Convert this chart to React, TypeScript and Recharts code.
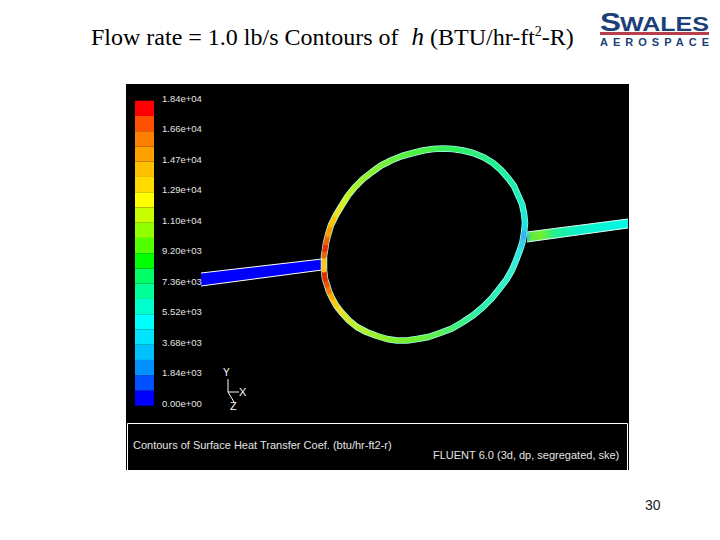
import React from "react";
import { ComposedChart, Line, Area, XAxis, YAxis, ReferenceArea } from "recharts";

// contour legend, bottom band first
const bandColors = [
  "#0000ff", "#0050ff", "#0090ff", "#00c0ff", "#00e4ff", "#00ffff", "#00ffcc", "#00ff99", "#00ff66", "#00ff00",
  "#50ff00", "#90ff00", "#c8ff00", "#ffff00", "#ffdc00", "#ffc000", "#ffa000", "#ff8000", "#ff5000", "#ff0000",
];
const legendTicks = [0, 1840, 3680, 5520, 7360, 9200, 11040, 12880, 14720, 16560, 18400];
const legendLabels = [
  "0.00e+00", "1.84e+03", "3.68e+03", "5.52e+03", "7.36e+03", "9.20e+03", "1.10e+04", "1.29e+04", "1.47e+04", "1.66e+04", "1.84e+04",
];

// ring centerline, read clockwise from the inlet junction
const ringX = [324, 324, 325, 326, 328, 331, 336, 342, 348, 355, 363, 372, 381, 392, 402, 413, 423, 433, 443, 453, 463, 473, 484, 493, 501, 508, 514, 518, 522, 524, 525, 524, 522.5, 520, 516, 512, 506.5, 500, 492, 483, 473.5, 463, 452, 440, 428.5, 417, 407, 397, 387, 377, 366.5, 357, 349, 342, 336.5, 332, 329, 327, 325, 324, 324];
const ringY = [262, 256, 250, 243, 235, 225, 215, 205, 195.5, 187, 179, 172, 165.5, 160, 156, 153, 150.5, 149, 148.5, 149, 150.5, 153, 157.5, 163, 170, 178, 186, 195, 204, 213, 223, 233, 242, 250, 260.5, 270, 279.5, 288, 298, 307, 315, 322, 328.5, 333, 337, 339, 340.5, 340.5, 339, 336, 332, 327, 320.5, 313, 306, 298, 291.5, 285, 279, 270, 262];
const ringColors = [
  "#f0c020", "#f06010", "#e82c00", "#f06000", "#ff9800", "#ffc000", "#f0e020", "#d8f020", "#c0f020", "#a8f030", "#98f030", "#88f030",
  "#78f038", "#68f040", "#58f040", "#50f040", "#48f048", "#40f050", "#38f058", "#30f060", "#30f070", "#30f080", "#28f088", "#20f090",
  "#20f0a0", "#20f0a8", "#20f0b4", "#20f0c0", "#20f0cc", "#20e8d8", "#20e0e4", "#30b8f0", "#30d0e8", "#30e8e0", "#30f0d8", "#30f0d0",
  "#30f0c8", "#30f0c0", "#30f0b4", "#30f0a8", "#38f094", "#40f080", "#50f068", "#60f050", "#68f040", "#70f030", "#78f030", "#80f030",
  "#90f030", "#a0f030", "#b0f030", "#c0f030", "#d8e828", "#f0e020", "#ffc810", "#ffa800", "#f87808", "#f05000", "#e02c00", "#ffc020",
];

// pipes: top and bottom edge at each end
const inletX = [201, 322];
const inletTop = [273, 259];
const inletBottom = [286, 270];
const outletX = [527, 628];
const outletTop = [232, 219];
const outletBottom = [242, 228];

// coordinate triad
const triadX = [228, 228, 239];
const triadY = [379, 392, 392];
const triadZx = [228, 234];
const triadZy = [392, 402];

const zip = (xs: number[], ys: number[]) => xs.map((x, i) => ({ x, y: ys[i] }));
const ringSegments = ringColors.map((color, i) => ({
  color,
  points: [
    { x: ringX[i], y: ringY[i] },
    { x: ringX[i + 1], y: ringY[i + 1] },
  ],
}));
const pipe = (xs: number[], top: number[], bottom: number[]) => xs.map((x, i) => ({ x, band: [top[i], bottom[i]] }));
const legendBand = (i: number) => [135, 154].map((x) => ({ x, band: [i * 920, (i + 1) * 920] }));

const sans = "'Liberation Sans', Arial, sans-serif";
const serif = "'Liberation Serif', 'Times New Roman', serif";

function LegendTick(props: any) {
  const i = legendTicks.indexOf(props.payload.value);
  return (
    <text x={162} y={props.y + 1} fontSize={9.5} fontFamily={sans} fill="#e4e4e4">
      {legendLabels[i]}
    </text>
  );
}

function Logo() {
  return (
    <svg width={720} height={60} style={{ position: "absolute", left: 0, top: 0 }}>
      <text x={600} y={31} fontFamily={sans} fontWeight="bold" fontSize={25} fill="#1d3f78" textLength={21} lengthAdjust="spacingAndGlyphs">S</text>
      <text x={620} y={31} fontFamily={sans} fontWeight="bold" fontSize={20} fill="#1d3f78" textLength={89} lengthAdjust="spacingAndGlyphs">WALES</text>
      <rect x={600} y={32} width={109} height={3} fill="#b8404c" />
      <text x={600} y={46} fontFamily={sans} fontWeight="bold" fontSize={11} fill="#1d3f78" textLength={109}>AEROSPACE</text>
    </svg>
  );
}

export default function App() {
  return (
    <div style={{ position: "absolute", left: 0, top: 0, width: 720, height: 540, background: "#fff", overflow: "hidden" }}>
      <ComposedChart width={720} height={540} margin={{ top: 0, right: 0, bottom: 0, left: 0 }}>
        <defs>
          <linearGradient id="outletFill" x1="0" y1="0" x2="1" y2="0">
            <stop offset="0%" stopColor="#30c0e0" />
            <stop offset="4%" stopColor="#60e840" />
            <stop offset="14%" stopColor="#70f030" />
            <stop offset="28%" stopColor="#20f090" />
            <stop offset="50%" stopColor="#10f0c8" />
            <stop offset="100%" stopColor="#00f8e8" />
          </linearGradient>
        </defs>
        <XAxis type="number" dataKey="x" domain={[0, 720]} hide />
        <YAxis yAxisId="page" type="number" domain={[0, 540]} reversed hide />
        <YAxis
          yAxisId="legend"
          type="number"
          domain={[-8102, 24476]}
          ticks={legendTicks}
          interval={0}
          width={60}
          mirror
          axisLine={false}
          tickLine={false}
          tick={<LegendTick />}
        />

        <ReferenceArea yAxisId="page" x1={126} x2={629} y1={84} y2={470} fill="#000" fillOpacity={1} stroke="none" />
        <ReferenceArea yAxisId="page" x1={127.5} x2={627.5} y1={423.5} y2={474} fill="none" stroke="#fff" ifOverflow="visible" />
        {bandColors.map((color, i) => (
          <Area
            key={color}
            yAxisId="legend"
            data={legendBand(i)}
            dataKey="band"
            type="linear"
            fill={color}
            fillOpacity={1}
            stroke="none"
            dot={false}
            isAnimationActive={false}
          />
        ))}

        <Area yAxisId="page" data={pipe(inletX, inletTop, inletBottom)} dataKey="band" type="linear" fill="#0000ff" fillOpacity={1} stroke="none" dot={false} isAnimationActive={false} />
        <Line yAxisId="page" data={zip(inletX, inletTop)} dataKey="y" type="linear" stroke="#fff" strokeWidth={1} dot={false} isAnimationActive={false} />
        <Line yAxisId="page" data={zip(inletX, inletBottom)} dataKey="y" type="linear" stroke="#fff" strokeWidth={1} dot={false} isAnimationActive={false} />
        <Area yAxisId="page" data={pipe(outletX, outletTop, outletBottom)} dataKey="band" type="linear" fill="url(#outletFill)" fillOpacity={1} stroke="none" dot={false} isAnimationActive={false} />
        <Line yAxisId="page" data={zip(outletX, outletTop)} dataKey="y" type="linear" stroke="#d8fff8" strokeWidth={1} dot={false} isAnimationActive={false} />
        <Line yAxisId="page" data={zip(outletX, outletBottom)} dataKey="y" type="linear" stroke="#d8fff8" strokeWidth={1} dot={false} isAnimationActive={false} />

        <Line yAxisId="page" data={zip(ringX, ringY)} dataKey="y" type="linear" stroke="#a0fff0" strokeWidth={6.5} strokeLinejoin="round" dot={false} isAnimationActive={false} />
        {ringSegments.map((segment, i) => (
          <Line
            key={i}
            yAxisId="page"
            data={segment.points}
            dataKey="y"
            type="linear"
            stroke={segment.color}
            strokeWidth={5}
            strokeLinecap="round"
            dot={false}
            isAnimationActive={false}
          />
        ))}

        <Line yAxisId="page" data={zip(triadX, triadY)} dataKey="y" type="linear" stroke="#fff" strokeWidth={1} dot={false} isAnimationActive={false} />
        <Line yAxisId="page" data={zip(triadZx, triadZy)} dataKey="y" type="linear" stroke="#fff" strokeWidth={1} dot={false} isAnimationActive={false} />
      </ComposedChart>

      <div style={{ position: "absolute", left: 91, top: 23, fontFamily: serif, fontSize: 24, color: "#000", whiteSpace: "pre" }}>
        Flow rate = 1.0 lb/s Contours of <i style={{ fontSize: 25, marginLeft: 7 }}>h</i> (BTU/hr-ft<sup style={{ fontSize: 14, lineHeight: 0 }}>2</sup>-R)
      </div>
      <Logo />
      <div style={{ position: "absolute", left: 223, top: 367, fontFamily: sans, fontSize: 10, color: "#fff" }}>Y</div>
      <div style={{ position: "absolute", left: 239, top: 386, fontFamily: sans, fontSize: 11, color: "#fff" }}>X</div>
      <div style={{ position: "absolute", left: 230, top: 400, fontFamily: sans, fontSize: 11, color: "#fff" }}>Z</div>
      <div style={{ position: "absolute", left: 133, top: 439, fontFamily: sans, fontSize: 11, color: "#e4e4e4", whiteSpace: "pre" }}>
        Contours of Surface Heat Transfer Coef. (btu/hr-ft2-r)
      </div>
      <div style={{ position: "absolute", left: 433, top: 449, fontFamily: sans, fontSize: 11, color: "#e4e4e4", whiteSpace: "pre" }}>
        FLUENT 6.0 (3d, dp, segregated, ske)
      </div>
      <div style={{ position: "absolute", left: 645, top: 497, fontFamily: "'Liberation Sans Narrow', " + sans, fontSize: 14, color: "#222" }}>30</div>
    </div>
  );
}
